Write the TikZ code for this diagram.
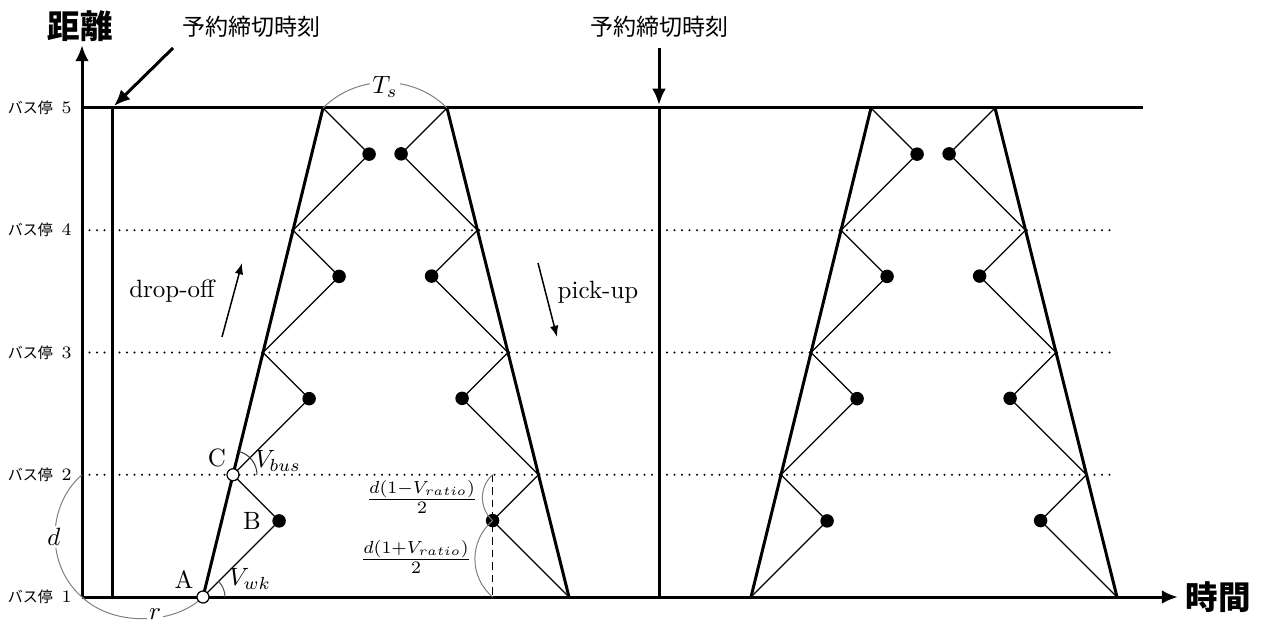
\documentclass[tikz,border=0pt]{standalone}
\usepackage{fontspec}
\newfontfamily\jp{Noto Sans CJK JP}
\usetikzlibrary{arrows.meta}
\begin{document}
\begin{tikzpicture}[x=0.4pt,y=-0.4pt,
  thickln/.style={line width=1.2pt},
  thinln/.style={line width=0.45pt},
  dotln/.style={line width=0.9pt, line cap=round, dash pattern=on 0pt off 3pt},
  stopdot/.style={circle, fill=black, inner sep=0pt, minimum size=5.4pt},
  opendot/.style={circle, draw=black, fill=white, line width=0.5pt, inner sep=0pt, minimum size=4.8pt},
  annot/.style={gray, line width=0.4pt},
  stoplabel/.style={anchor=east, inner sep=0pt, font=\fontsize{7}{8}\selectfont},
  bigarrow/.style={line width=1.2pt, -{Latex[length=6.5pt,width=5.5pt]}},
  smallarrow/.style={line width=0.6pt, -{Latex[length=4.5pt,width=3.4pt]}},
  title/.style={font={\jp\bfseries\fontsize{13}{15}\selectfont}},
  deadline/.style={font={\jp\fontsize{9.2}{11}\selectfont}},
  lbl/.style={fill=white, inner sep=1pt}]
\useasboundingbox (0,0) rectangle (1263,624);

% bus stops
\foreach \k/\yy in {1/597, 2/474.75, 3/352.5, 4/230.25, 5/108} {
  \node[stoplabel] (stop\k) at (72,\yy) {{\jp\fontsize{6}{7}\selectfont バス停}\hspace{3.5pt}\k};
  \coordinate (h\k) at (82,\yy);
}
\foreach \k in {2,3,4} \draw[dotln] (h\k) -- ++(1031,0);

% axes
\coordinate (ytip) at (82,45);
\coordinate (xtip) at (1178,597);
\draw[bigarrow] (h1) -- (ytip);
\draw[bigarrow] (h1) -- (xtip);
\node[title] (ylab) at (80,26) {距離};
\node[title] (xlab) at (1218,597) {時間};

% stop 5 line and deadlines
\coordinate (s5end) at (1143,108);
\draw[thickln] (h5) -- (s5end);
\coordinate (dl1t) at (112,108); \coordinate (dl1b) at (112,597);
\coordinate (dl2t) at (659,108); \coordinate (dl2b) at (659,597);
\draw[thickln] (dl1t) -- (dl1b);
\draw[thickln] (dl2t) -- (dl2b);
\node[deadline] (dlab1) at (251,27) {予約締切時刻};
\node[deadline] (dlab2) at (659,27) {予約締切時刻};
\coordinate (a1s) at (173,48); \coordinate (a1e) at (114,106);
\coordinate (a2s) at (659,48); \coordinate (a2e) at (659,105);
\draw[bigarrow] (a1s) -- (a1e);
\draw[bigarrow] (a2s) -- (a2e);

% trapezoids
\foreach \o/\p in {0/a, 548/b} {
  \foreach \k in {0,...,4} {
    \coordinate (L\k\p) at ({203+\o+30*\k}, {597-122.25*\k});
    \coordinate (R\k\p) at ({569+\o-30.5*\k}, {597-122.25*\k});
  }
  \foreach \k in {0,...,3} {
    \coordinate (PL\k\p) at ({279.1+\o+30*\k}, {520.9-122.25*\k});
    \coordinate (PR\k\p) at ({492.6+\o-30.5*\k}, {520.6-122.25*\k});
  }
  \foreach \k/\kk in {0/1,1/2,2/3,3/4} {
    \draw[thinln] (L\k\p) -- (PL\k\p) -- (L\kk\p);
    \draw[thinln] (R\k\p) -- (PR\k\p) -- (R\kk\p);
    \node[stopdot] (DL\k\p) at (PL\k\p) {};
    \node[stopdot] (DR\k\p) at (PR\k\p) {};
  }
  \draw[thickln] (L0\p) -- (L4\p);
  \draw[thickln] (R4\p) -- (R0\p);
}

% T_s
\draw[annot] (L4a) .. controls (357,74) and (413,74) .. (R4a);
\node[lbl] (ts) at (385,87) {$T_s$};

% d and r
\draw[annot] (h2) .. controls (46,506) and (46,566) .. (h1);
\node[lbl] (dl) at (54,537) {$d$};
\draw[annot] (h1) .. controls (112,626) and (173,626) .. (L0a);
\node[lbl] (rl) at (155,614) {$r$};

% angles
\draw[line width=0.4pt, black!70] ([shift={(22,0)}]L0a) arc[start angle=0, end angle=-45, radius=22];
\draw[line width=0.4pt, black!80] ([shift={(24,0)}]L1a) arc[start angle=0, end angle=-76.2, radius=24];
\node (vwk) at (250,579) {$V_{wk}$};
\node (vbus) at (278,461) {$V_{bus}$};

% A, B, C
\node[opendot] (A) at (L0a) {};
\node[opendot] (C) at (L1a) {};
\node (Al) at (184,580) {A};
\node (Bl) at (252,521) {B};
\node (Cl) at (217,458) {C};

% ratio annotation
\coordinate (q2) at (492.6,474.75);
\coordinate (q1) at (492.6,597);
\draw[thinln, dash pattern=on 3pt off 2pt] (q2) -- (q1);
\draw[annot] (q2) .. controls (479,487) and (479,508) .. (DR0a.center);
\draw[annot] (DR0a.center) .. controls (469,541) and (469,577) .. (q1);
\node (f1) at (422,497) {$\frac{d(1-V_{ratio})}{2}$};
\node (f2) at (416,557) {$\frac{d(1+V_{ratio})}{2}$};

% drop-off / pick-up
\node (drop) at (172,291) {drop-off};
\node (pick) at (598,292) {pick-up};
\coordinate (da) at (222,337); \coordinate (db) at (242,263);
\coordinate (pa) at (538,263); \coordinate (pb) at (557,337);
\draw[smallarrow] (da) -- (db);
\draw[smallarrow] (pa) -- (pb);
\end{tikzpicture}
\end{document}
